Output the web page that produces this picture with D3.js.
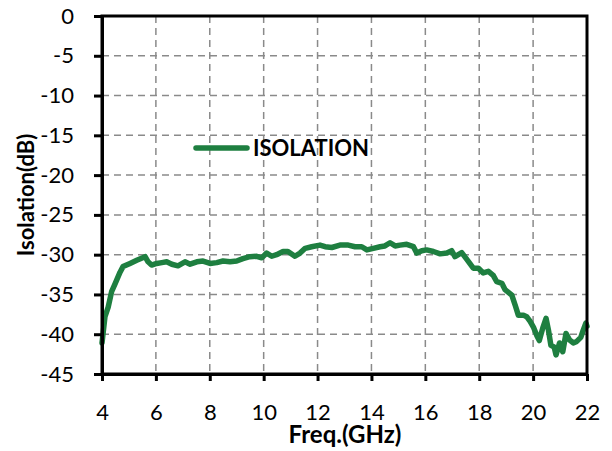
<!DOCTYPE html>
<html><head><meta charset="utf-8">
<script src="https://cdn.jsdelivr.net/npm/d3@7"></script>
<style>body{margin:0;background:#fff}svg{display:block}</style>
</head><body>
<svg id="c" width="612" height="451"></svg>
<script>
const freq = [4.0,4.11,4.23,4.36,4.48,4.67,4.78,5.04,5.29,5.6,5.71,5.84,6.03,6.22,6.4,6.59,6.82,7.08,7.27,7.52,7.75,8.01,8.26,8.49,8.75,9.0,9.23,9.49,9.74,9.93,10.11,10.3,10.48,10.72,10.9,11.16,11.35,11.54,11.78,12.09,12.28,12.53,12.83,13.14,13.39,13.64,13.83,14.07,14.32,14.5,14.69,14.88,15.06,15.31,15.56,15.68,15.87,16.05,16.3,16.55,16.8,16.98,17.1,17.35,17.54,17.78,17.97,18.15,18.34,18.52,18.65,18.84,18.96,19.21,19.33,19.45,19.64,19.76,19.89,20.01,20.14,20.23,20.36,20.48,20.57,20.66,20.78,20.85,20.98,21.1,21.22,21.35,21.49,21.62,21.77,21.86,21.96,22.0];
const isolation = [-41.1,-37.8,-36.6,-34.6,-33.7,-32.2,-31.5,-31.1,-30.7,-30.25,-30.9,-31.3,-31.1,-31.0,-30.9,-31.2,-31.4,-30.9,-31.2,-30.9,-30.8,-31.1,-31.0,-30.8,-30.9,-30.8,-30.5,-30.25,-30.2,-30.4,-29.8,-30.2,-30.0,-29.6,-29.6,-30.2,-29.8,-29.2,-29.0,-28.8,-29.0,-29.1,-28.8,-28.8,-29.0,-29.0,-29.4,-29.2,-29.0,-28.9,-28.5,-28.9,-28.8,-28.7,-29.0,-29.8,-29.5,-29.4,-29.6,-29.9,-29.8,-29.5,-30.25,-29.75,-30.6,-31.7,-31.7,-32.3,-32.1,-32.6,-33.4,-33.6,-34.4,-35.1,-36.3,-37.6,-37.6,-37.8,-38.4,-39.1,-40.2,-40.8,-39.2,-38.0,-39.5,-41.4,-41.6,-42.6,-41.1,-42.2,-39.9,-40.7,-41.1,-40.9,-40.4,-39.5,-38.6,-39.0];
const xTicks = [4,6,8,10,12,14,16,18,20,22];
const yTicks = [0,-5,-10,-15,-20,-25,-30,-35,-40,-45];
const seriesName = "ISOLATION";

const svg = d3.select("#c");
const L = 102, R = 587, T = 16, B = 374;
const x = d3.scaleLinear().domain([4,22]).range([L,R]);
const y = d3.scaleLinear().domain([-45,0]).range([B,T]);
const font = "Lato, 'Open Sans', sans-serif";

// grid
const g = svg.append("g");
g.selectAll(".vx").data(xTicks.slice(1,-1)).join("line")
  .attr("x1",d=>x(d)).attr("x2",d=>x(d)).attr("y1",T).attr("y2",B)
  .attr("stroke","#8a8a8a").attr("stroke-width",1.5).attr("stroke-dasharray","7,5");
g.selectAll(".hy").data(yTicks.slice(1,-1)).join("line")
  .attr("x1",L).attr("x2",R).attr("y1",d=>y(d)).attr("y2",d=>y(d))
  .attr("stroke","#8a8a8a").attr("stroke-width",1.5).attr("stroke-dasharray","7,5");

// line
const line = d3.line().x((d,i)=>x(freq[i])).y(d=>y(d)).curve(d3.curveLinear);
svg.append("path").attr("d",line(isolation)).attr("fill","none")
  .attr("stroke","#1e7f40").attr("stroke-width",5.5).attr("stroke-linejoin","round").attr("stroke-linecap","round");

// frame
svg.append("rect").attr("x",L).attr("y",T).attr("width",R-L).attr("height",B-T)
  .attr("fill","none").attr("stroke","#000").attr("stroke-width",3);

// axes
const fmt = d => String(d);
const xa = svg.append("g").attr("transform",`translate(0,${B})`)
  .call(d3.axisBottom(x).tickValues(xTicks).tickFormat(fmt).tickSize(7).tickSizeOuter(0).tickPadding(23));
const ya = svg.append("g").attr("transform",`translate(${L},0)`)
  .call(d3.axisLeft(y).tickValues(yTicks).tickFormat(fmt).tickSize(8).tickSizeOuter(0).tickPadding(20));
[xa,ya].forEach(a=>{
  a.select(".domain").attr("stroke","#000").attr("stroke-width",3);
  a.selectAll(".tick line").attr("stroke","#000").attr("stroke-width",3);
  a.selectAll(".tick text").attr("fill","#000").style("font-family",font).style("font-size","22px");
});

// titles
svg.append("text").attr("x",345).attr("y",443).attr("text-anchor","middle")
  .style("font-family",font).style("font-weight","bold").style("font-size","24px").text("Freq.(GHz)");
svg.append("text").attr("transform","translate(34,195) rotate(-90)").attr("text-anchor","middle")
  .style("font-family",font).style("font-weight","bold").style("font-size","22px").text("Isolation(dB)");

// legend
svg.append("line").attr("x1",196).attr("x2",247).attr("y1",148).attr("y2",148)
  .attr("stroke","#1e7f40").attr("stroke-width",5.5).attr("stroke-linecap","round");
svg.append("text").attr("x",253).attr("y",156).style("font-family",font).style("font-weight","bold")
  .style("font-size","22px").text(seriesName);
</script>
</body></html>
